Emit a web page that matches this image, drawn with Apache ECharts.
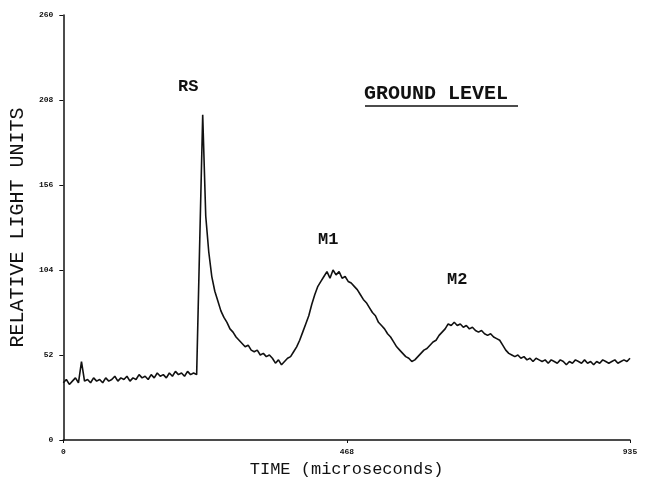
<!DOCTYPE html>
<html>
<head>
<meta charset="utf-8">
<script src="https://cdn.jsdelivr.net/npm/echarts@6/dist/echarts.min.js"></script>
<style>
  html, body { margin: 0; padding: 0; background: #fff; }
  #graph { width: 647px; height: 489px; }
</style>
</head>
<body>
<div id="graph"></div>
<script>
// sampled every 5 microseconds, 0..935
var sampleStep = 5;
var lightUnits = [
    35, 37, 34, 36, 38, 35, 48, 36, 37, 35,
    38, 36, 37, 35, 38, 36, 37, 39, 36, 38,
    37, 39, 36, 38, 37, 40, 38, 39, 37, 40,
    38, 41, 39, 40, 38, 41, 39, 42, 40, 41,
    39, 42, 40, 41, 40, 120, 199, 137, 115, 100,
    91, 85, 79, 75, 72, 68, 66, 63, 61, 59,
    57, 58, 55, 54, 55, 52, 53, 51, 52, 50,
    47, 49, 46, 48, 50, 51, 54, 57, 61, 66,
    71, 76, 83, 89, 94, 97, 100, 103, 99, 104,
    101, 103, 99, 100, 97, 96, 94, 92, 89, 86,
    84, 81, 78, 76, 72, 70, 68, 65, 63, 60,
    57, 55, 53, 51, 50, 48, 49, 51, 53, 55,
    56, 58, 60, 61, 64, 66, 68, 71, 70, 72,
    70, 71, 69, 70, 68, 69, 67, 66, 67, 65,
    64, 65, 63, 62, 61, 58, 55, 53, 52, 51,
    52, 50, 51, 49, 50, 48, 50, 49, 48, 49,
    47, 49, 48, 47, 49, 48, 46, 48, 47, 49,
    48, 47, 49, 47, 48, 46, 48, 47, 49, 48,
    47, 48, 49, 47, 48, 49, 48, 50
];
var xTicks = [0, 468, 935];
var yTicks = [0, 52, 104, 156, 208, 260];

var peakLabels = ['RS', 'M1', 'M2'];
var titleText = 'GROUND LEVEL';

var points = lightUnits.map(function(v, i) {
    return [i * sampleStep, v];
});

var typeFont = '"Liberation Mono", "DejaVu Sans Mono", monospace';

var dom = document.getElementById("graph");
var chart = echarts.init(dom);

chart.setOption({
    animation: false,
    grid: { left: 63, right: 17, top: 15, bottom: 49 },
    xAxis: {
        type: 'value',
        min: 0,
        max: 935,
        name: 'TIME (microseconds)',
        nameLocation: 'middle',
        nameGap: 19,
        nameTextStyle: { fontFamily: typeFont, fontSize: 17, color: '#111' },
        axisLine: { lineStyle: { color: '#111', width: 1.5 } },
        axisTick: { customValues: xTicks, length: 3, lineStyle: { color: '#111' } },
        axisLabel: {
            customValues: xTicks,
            fontFamily: typeFont,
            fontWeight: 'bold',
            fontSize: 8,
            color: '#111',
            margin: 8
        },
        splitLine: { show: false }
    },
    yAxis: {
        type: 'value',
        min: 0,
        max: 260,
        interval: 52,
        name: 'RELATIVE LIGHT UNITS',
        nameLocation: 'middle',
        nameGap: 34,
        nameTextStyle: { fontFamily: typeFont, fontSize: 20, color: '#111' },
        axisLine: { show: true, lineStyle: { color: '#111', width: 1.5 } },
        axisTick: { show: true, length: 4, lineStyle: { color: '#111' } },
        axisLabel: {
            fontFamily: typeFont,
            fontWeight: 'bold',
            fontSize: 8,
            color: '#111',
            margin: 10
        },
        splitLine: { show: false }
    },
    graphic: [
        { type: 'text', left: 178, top: 78,
          style: { text: peakLabels[0], font: 'bold 17px ' + typeFont, fill: '#111' } },
        { type: 'text', left: 318, top: 231,
          style: { text: peakLabels[1], font: 'bold 17px ' + typeFont, fill: '#111' } },
        { type: 'text', left: 447, top: 271,
          style: { text: peakLabels[2], font: 'bold 17px ' + typeFont, fill: '#111' } },
        { type: 'text', left: 364, top: 84,
          style: { text: titleText, font: 'bold 20px ' + typeFont, fill: '#111' } },
        { type: 'line', shape: { x1: 365, y1: 106, x2: 518, y2: 106 },
          style: { stroke: '#111', lineWidth: 1.5 } }
    ],
    series: [
        {
            type: 'line',
            data: points,
            showSymbol: false,
            lineStyle: { color: '#111', width: 1.6 }
        }
    ]
});
</script>
</body>
</html>
